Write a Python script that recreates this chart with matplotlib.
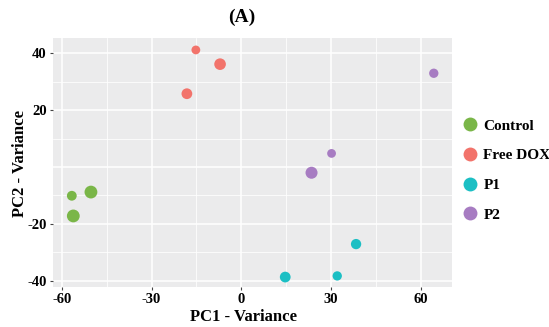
import matplotlib.pyplot as plt
from matplotlib.lines import Line2D

plt.rcParams['font.family'] = ['Liberation Serif', 'DejaVu Serif']
plt.rcParams['font.weight'] = 'bold'
plt.rcParams['axes.unicode_minus'] = False

groups = ['Control', 'Free DOX', 'P1', 'P2']
colors = ['#7AB648', '#F2736B', '#1CBFC4', '#A77CC2']

pc1 = {
    'Control': [-56.7, -50.3, -56.2],
    'Free DOX': [-15.2, -7.1, -18.2],
    'P1': [14.7, 32.1, 38.4],
    'P2': [64.4, 30.2, 23.5],
}
pc2 = {
    'Control': [-10.1, -8.8, -17.2],
    'Free DOX': [41.2, 36.2, 25.8],
    'P1': [-38.7, -38.3, -27.1],
    'P2': [33.0, 4.8, -2.0],
}
sizes = {
    'Control': [50, 85, 85],
    'Free DOX': [40, 70, 60],
    'P1': [60, 45, 55],
    'P2': [45, 40, 75],
}

xticks = [-60, -30, 0, 30, 60]
yticks = [-40, -20, 20, 40]

fig = plt.figure(figsize=(5.49, 3.27), dpi=100)
ax = fig.add_axes([0.0965, 0.1223, 0.7263, 0.7606])
ax.set_facecolor('#EBEBEC')

for g, c in zip(groups, colors):
    ax.scatter(pc1[g], pc2[g], s=sizes[g], color=c, edgecolors='none', zorder=3)

ax.set_xlim(-63, 70.4)
ax.set_ylim(-42.2, 45.3)
ax.set_xticks(xticks)
ax.set_yticks(yticks)
ax.set_xticks([-45, -15, 15, 45], minor=True)
ax.set_yticks([-30, -10, 10, 30], minor=True)
ax.grid(which='major', color='white', linewidth=1.1, zorder=0)
ax.grid(which='minor', color='white', linewidth=0.55, zorder=0)
ax.axhline(0, color='white', linewidth=1.1, zorder=0)
ax.set_axisbelow(True)
for s in ax.spines.values():
    s.set_visible(False)
ax.tick_params(which='major', length=2.5, color='#444444', labelsize=10.5, pad=2)
ax.tick_params(which='minor', length=0)

fig.text(0.441, 0.948, '(A)', ha='center', va='center', fontsize=14, fontweight='bold')
fig.text(0.444, 0.030, 'PC1 - Variance', ha='center', va='center', fontsize=12, fontweight='bold')
fig.text(0.037, 0.50, 'PC2 - Variance', ha='center', va='center', rotation=90, fontsize=12, fontweight='bold')

handles = [Line2D([], [], marker='o', linestyle='none', markersize=10,
                  markerfacecolor=c, markeredgecolor='none') for c in colors]
fig.legend(handles, groups, loc='upper left', bbox_to_anchor=(0.822, 0.66),
           frameon=False, fontsize=11, handletextpad=0.1, labelspacing=1.05,
           borderpad=0, handlelength=1.5)

fig.savefig('out.png', dpi=100)
